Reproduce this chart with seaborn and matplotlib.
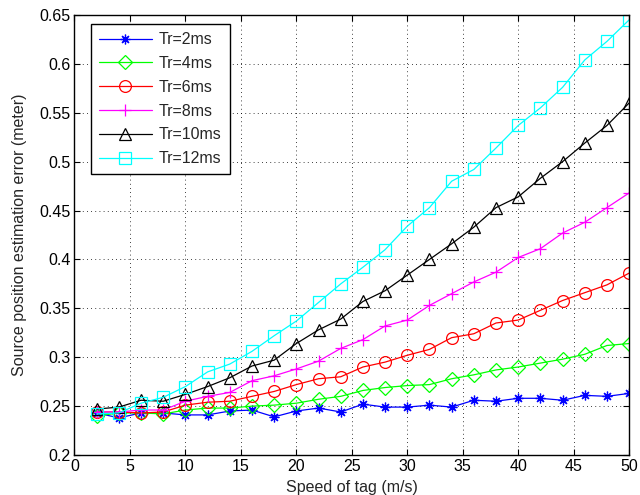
import matplotlib
matplotlib.use("Agg")
import matplotlib.pyplot as plt
import seaborn as sns
import numpy as np
import pandas as pd

speed = [2, 4, 6, 8, 10, 12, 14, 16, 18, 20, 22, 24, 26, 28, 30, 32, 34, 36, 38, 40, 42, 44, 46, 48, 50]

tr2 = [0.243, 0.238, 0.243, 0.243, 0.241, 0.241, 0.245, 0.246, 0.239, 0.245, 0.248, 0.244,
       0.252, 0.249, 0.249, 0.251, 0.249, 0.256, 0.255, 0.258, 0.258, 0.256, 0.261, 0.260, 0.263]
tr4 = [0.240, 0.243, 0.243, 0.242, 0.246, 0.248, 0.248, 0.250, 0.251, 0.253, 0.257, 0.260,
       0.266, 0.269, 0.271, 0.272, 0.278, 0.282, 0.287, 0.290, 0.294, 0.298, 0.303, 0.312, 0.314]
tr6 = [0.244, 0.244, 0.243, 0.244, 0.251, 0.254, 0.255, 0.260, 0.265, 0.272, 0.278, 0.280,
       0.290, 0.295, 0.302, 0.308, 0.320, 0.324, 0.335, 0.338, 0.348, 0.358, 0.366, 0.374, 0.386]
tr8 = [0.244, 0.244, 0.246, 0.246, 0.255, 0.260, 0.264, 0.276, 0.281, 0.288, 0.296, 0.309,
       0.318, 0.332, 0.338, 0.353, 0.365, 0.377, 0.387, 0.402, 0.411, 0.427, 0.438, 0.453, 0.468]
tr10 = [0.247, 0.249, 0.256, 0.255, 0.262, 0.270, 0.279, 0.291, 0.297, 0.314, 0.328, 0.339,
        0.357, 0.368, 0.384, 0.400, 0.416, 0.433, 0.453, 0.464, 0.483, 0.500, 0.519, 0.537, 0.560]
tr12 = [0.242, 0.243, 0.253, 0.259, 0.270, 0.285, 0.293, 0.306, 0.322, 0.337, 0.356, 0.375,
        0.392, 0.410, 0.434, 0.453, 0.480, 0.492, 0.514, 0.537, 0.555, 0.576, 0.604, 0.623, 0.645]

labels = ["Tr=2ms", "Tr=4ms", "Tr=6ms", "Tr=8ms", "Tr=10ms", "Tr=12ms"]
series = [tr2, tr4, tr6, tr8, tr10, tr12]
colors = ["#0000ff", "#00ff00", "#ff0000", "#ff00ff", "#000000", "#00ffff"]
markers = [(8, 2, 0), "D", "o", "+", "^", "s"]
msizes = [7, 7, 8.5, 9, 9, 8]

sns.set_style("ticks")
plt.rcParams["font.family"] = ["Liberation Sans", "DejaVu Sans"]

fig = plt.figure(figsize=(6.4, 4.95), dpi=100)
ax = fig.add_axes([0.1164, 0.0808, 0.8666, 0.8889])

for lab, vals, c, m, ms in zip(labels, series, colors, markers, msizes):
    df = pd.DataFrame({"speed": speed, "err": vals})
    sns.lineplot(data=df, x="speed", y="err", ax=ax, color=c, marker=m,
                 markersize=ms, markerfacecolor="none", markeredgecolor=c,
                 markeredgewidth=0.9, linewidth=0.9, label=lab)

ax.set_xlim(0, 50)
ax.set_ylim(0.2, 0.65)
ax.set_xticks(np.arange(0, 51, 5))
ax.set_yticks(np.round(np.arange(0.2, 0.651, 0.05), 2))
ax.set_yticklabels(["0.2", "0.25", "0.3", "0.35", "0.4", "0.45", "0.5", "0.55", "0.6", "0.65"])
ax.set_xlabel("Speed of tag (m/s)", fontsize=11.5, labelpad=4)
ax.set_ylabel("Source position estimation error (meter)", fontsize=11.5, labelpad=9)
ax.tick_params(direction="in", length=4, width=0.8, top=True, right=True,
               labelsize=11.5, colors="black", pad=3)
for sp in ax.spines.values():
    sp.set_visible(True)
    sp.set_color("black")
    sp.set_linewidth(1.0)
ax.grid(True, color="black", linestyle=(0, (1, 4)), linewidth=0.6)

leg = ax.legend(loc="upper left", bbox_to_anchor=(0.0298, 0.979), borderaxespad=0,
                fontsize=11.5, handlelength=3.3, handletextpad=0.45, labelspacing=0.55,
                fancybox=False, framealpha=1, edgecolor="black", borderpad=0.5)
leg.get_frame().set_linewidth(1.0)

fig.savefig("out.png", dpi=100)
